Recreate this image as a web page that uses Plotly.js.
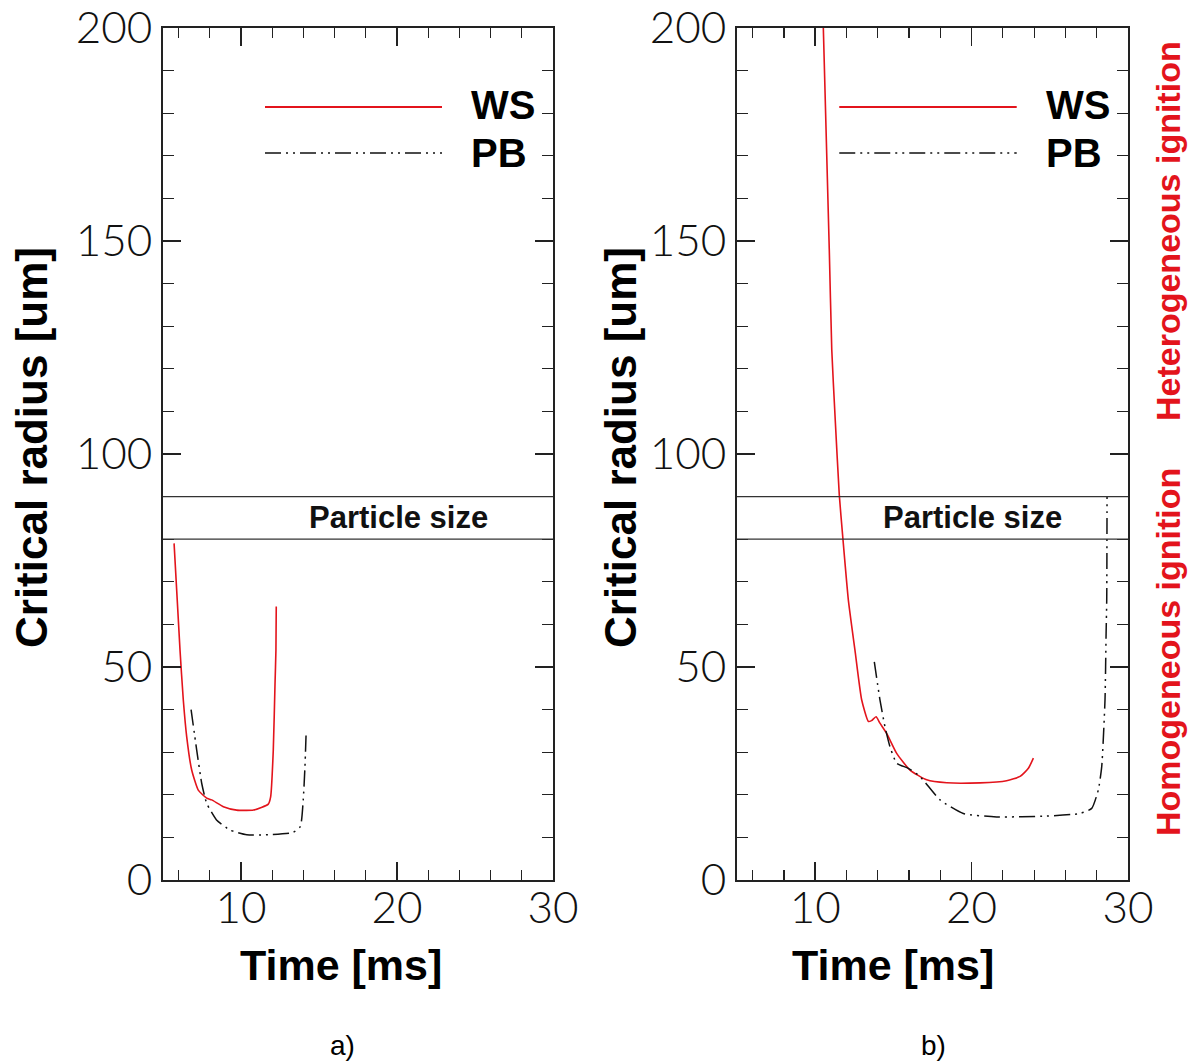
<!DOCTYPE html>
<html>
<head>
<meta charset="utf-8">
<script src="https://cdn.plot.ly/plotly-3.0.1.min.js"></script>
<style>html,body{margin:0;padding:0;background:#fff;}#chart{width:1190px;height:1063px;}</style>
</head>
<body>
<div id="chart"></div>
<script>
// ---- Data ----
// Panel a)
const wsA_time   = [5.71, 6.09, 6.3, 6.52, 6.84, 7.26, 7.8, 8.12, 8.87, 9.72, 10.8, 11.75, 11.9, 12.07, 12.18, 12.24, 12.26];
const wsA_radius = [79, 54, 42.3, 33.6, 25.8, 21.1, 19.2, 18.8, 17.2, 16.4, 16.4, 17.8, 19.5, 30.5, 46, 54, 64.2];
const pbA_time   = [6.8, 7.16, 7.48, 7.8, 8.43, 9.3, 10.37, 11.6, 13.3, 13.8, 13.99, 14.1, 14.17];
const pbA_radius = [40, 30.5, 22.7, 18, 14.1, 11.7, 10.6, 10.6, 11.1, 12.5, 18.8, 26.6, 34];
// Panel b)
const wsB_time   = [10.52, 10.9, 11.06, 11.27, 11.54, 11.76, 12.12, 12.54, 12.97, 13.4, 13.6, 13.89, 14.14, 14.57, 15.21, 16.06, 17.13, 18.41, 20.54, 22.24, 23.1, 23.63, 23.95];
const wsB_radius = [200, 148, 124.4, 108.8, 90.4, 80.6, 65.7, 54, 42.3, 37.2, 37.4, 38.3, 36.8, 34.4, 29.7, 25.8, 23.5, 22.8, 22.8, 23.3, 24.3, 26.2, 28.6];
const pbB_time   = [13.78, 14.14, 14.46, 14.78, 15.21, 15.95, 16.7, 17.98, 19.47, 21.6, 24.8, 26.93, 27.68, 28.1, 28.32, 28.53, 28.6, 28.64, 28.66];
const pbB_radius = [51.2, 42.3, 36, 31.3, 27.4, 26.2, 24.3, 18.8, 15.6, 14.8, 15, 15.6, 16.8, 21.1, 26.6, 42.3, 57.9, 65.7, 90];
// Particle size band
const particleSize = [80, 90];
// Axis ticks
const xTicks = [10, 20, 30];
const yTicks = [0, 50, 100, 150, 200];
const seriesNames = ['WS', 'PB'];
const panelLabels = ['a)', 'b)'];
const regionLabels = ['Heterogeneous ignition', 'Homogeneous ignition'];

// ---- Styles ----
const RED = '#e3141c';
const BLACK = '#111';
const PBDASH = '16px,5px,2px,5px,2px,5px';
const TICKFONT = {family: 'Lato, "Liberation Sans", sans-serif', size: 44, color: '#111', weight: 300};
const BOLD = '"Liberation Sans", Arial, sans-serif';

const traces = [
  {x: wsA_time, y: wsA_radius, xaxis: 'x', yaxis: 'y', mode: 'lines', name: seriesNames[0], line: {color: RED, width: 1.6, shape: 'spline', smoothing: 0.5}},
  {x: pbA_time, y: pbA_radius, xaxis: 'x', yaxis: 'y', mode: 'lines', name: seriesNames[1], line: {color: BLACK, width: 1.5, dash: PBDASH, shape: 'spline', smoothing: 0.5}},
  {x: wsB_time, y: wsB_radius, xaxis: 'x2', yaxis: 'y2', mode: 'lines', name: seriesNames[0], line: {color: RED, width: 1.6, shape: 'spline', smoothing: 0.5}},
  {x: pbB_time, y: pbB_radius, xaxis: 'x2', yaxis: 'y2', mode: 'lines', name: seriesNames[1], line: {color: BLACK, width: 1.5, dash: PBDASH, shape: 'spline', smoothing: 0.5}}
];

function xax(domain, anchor) {
  return {
    domain: domain, anchor: anchor, range: [5, 30], tickvals: xTicks, ticktext: xTicks.map(String),
    ticks: 'inside', ticklen: 18, tickwidth: 1.5, tickcolor: '#222', ticklabelstandoff: -12,
    minor: {dtick: 2, tick0: 0, ticks: 'inside', ticklen: 10, tickwidth: 1.2, tickcolor: '#222'},
    showline: true, linecolor: '#222', linewidth: 1.8, mirror: 'allticks',
    showgrid: false, zeroline: false, tickfont: TICKFONT, fixedrange: true
  };
}
function yax(anchor) {
  return {
    domain: [0.1722, 0.9737], anchor: anchor, range: [0, 200], tickvals: yTicks, ticktext: yTicks.map(String),
    ticks: 'inside', ticklen: 18, tickwidth: 1.5, tickcolor: '#222',
    minor: {dtick: 10, tick0: 0, ticks: 'inside', ticklen: 11, tickwidth: 1.2, tickcolor: '#222'},
    showline: true, linecolor: '#222', linewidth: 1.8, mirror: 'allticks',
    showgrid: false, zeroline: false, tickfont: TICKFONT, fixedrange: true
  };
}

const shapes = [];
const annotations = [];
const panels = [
  {xr: 'x', yr: 'y', dom: [163/1190, 553/1190]},
  {xr: 'x2', yr: 'y2', dom: [737/1190, 1128/1190]}
];
function ann(o) { return Object.assign({xref: 'paper', yref: 'paper', xanchor: 'center', yanchor: 'middle', showarrow: false}, o); }
panels.forEach((p, i) => {
  particleSize.forEach(v => shapes.push({type: 'line', xref: p.xr + ' domain', yref: p.yr, x0: 0, x1: 1, y0: v, y1: v, line: {color: '#333', width: 1.2}}));
  annotations.push(ann({xref: p.xr + ' domain', yref: p.yr, x: 0.603, y: (particleSize[0] + particleSize[1]) / 2, text: 'Particle size', font: {family: BOLD, size: 31, weight: 'bold', color: '#111'}}));
  // legend samples (decoration in paper space)
  const lx0 = p.dom[0] + (102/390) * (p.dom[1] - p.dom[0]);
  const lx1 = p.dom[0] + (279/390) * (p.dom[1] - p.dom[0]);
  const tx = p.dom[0] + (306/390) * (p.dom[1] - p.dom[0]);
  shapes.push({type: 'line', xref: 'paper', yref: 'paper', x0: lx0, x1: lx1, y0: 1 - 107/1063, y1: 1 - 107/1063, line: {color: RED, width: 1.8}});
  shapes.push({type: 'line', xref: 'paper', yref: 'paper', x0: lx0, x1: lx1, y0: 1 - 153/1063, y1: 1 - 153/1063, line: {color: BLACK, width: 1.4, dash: PBDASH}});
  annotations.push(ann({x: tx, y: 1 - 105/1063, xanchor: 'left', text: seriesNames[0], font: {family: BOLD, size: 40, weight: 'bold', color: '#000'}}));
  annotations.push(ann({x: tx, y: 1 - 153/1063, xanchor: 'left', text: seriesNames[1], font: {family: BOLD, size: 40, weight: 'bold', color: '#000'}}));
  // axis titles
  annotations.push(ann({x: (i === 0 ? 31 : 620) / 1190, y: 1 - 448/1063, textangle: -90, text: 'Critical radius [um]', font: {family: BOLD, size: 44, weight: 'bold', color: '#000'}}));
  annotations.push(ann({x: (i === 0 ? 341 : 893) / 1190, y: 1 - 965/1063, text: 'Time [ms]', font: {family: BOLD, size: 43, weight: 'bold', color: '#000'}}));
  annotations.push(ann({x: (i === 0 ? 343 : 933) / 1190, y: 1 - 1045/1063, text: panelLabels[i], font: {family: '"Liberation Sans", Arial, sans-serif', size: 28, color: '#000'}}));
});
annotations.push(ann({x: 1168/1190, y: 1 - 231/1063, textangle: -90, text: regionLabels[0], font: {family: BOLD, size: 34, weight: 'bold', color: RED}}));
annotations.push(ann({x: 1168/1190, y: 1 - 652/1063, textangle: -90, text: regionLabels[1], font: {family: BOLD, size: 34, weight: 'bold', color: RED}}));

const layout = {
  width: 1190, height: 1063,
  margin: {l: 0, r: 0, t: 0, b: 0},
  paper_bgcolor: '#fff', plot_bgcolor: '#fff',
  showlegend: false,
  xaxis: xax(panels[0].dom, 'y'),
  yaxis: yax('x'),
  xaxis2: xax(panels[1].dom, 'y2'),
  yaxis2: yax('x2'),
  shapes: shapes,
  annotations: annotations
};

Plotly.newPlot('chart', traces, layout, {staticPlot: true, displayModeBar: false});
</script>
</body>
</html>
